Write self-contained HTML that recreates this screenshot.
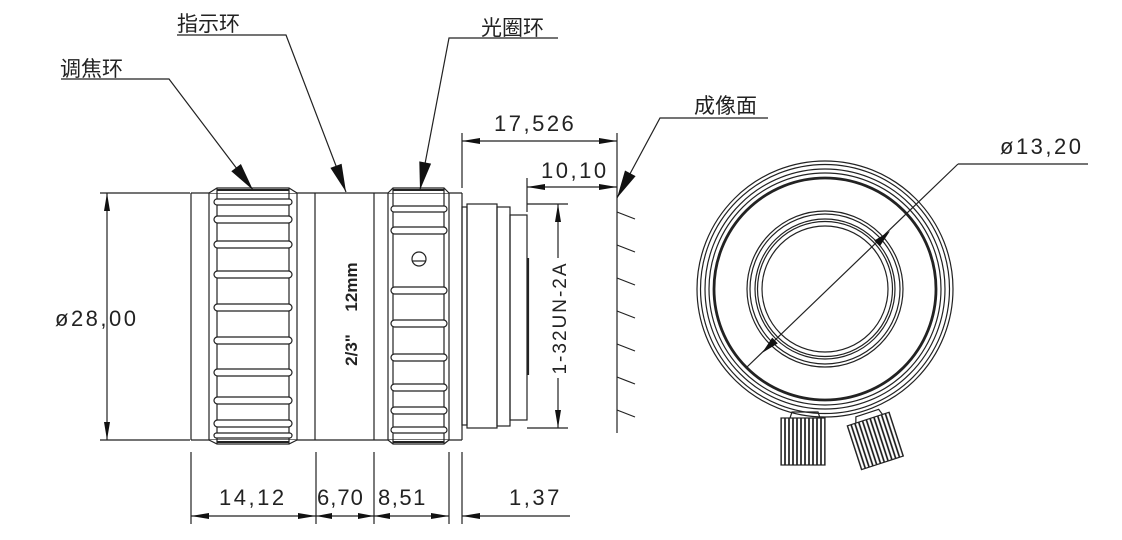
<!DOCTYPE html>
<html><head><meta charset="utf-8"><style>
html,body{margin:0;padding:0;background:#fff;}
svg{display:block;}
text{font-family:"Liberation Sans","Noto Sans CJK SC",sans-serif;fill:#222;}
.cn{font-family:"Liberation Sans","Noto Sans CJK SC",sans-serif;font-size:21px;}
.num{font-size:22px;letter-spacing:2.5px;font-weight:300;}
</style></head><body>
<svg width="1122" height="540" viewBox="0 0 1122 540" xmlns="http://www.w3.org/2000/svg">
<defs>
<pattern id="kn" width="4" height="10" patternUnits="userSpaceOnUse"><rect width="4" height="10" fill="#fff"/><line x1="1" y1="0" x2="1" y2="10" stroke="#111" stroke-width="1.6"/></pattern>
</defs>
<g stroke="#222" stroke-width="1.2" fill="none">
<line x1="191" y1="193" x2="462" y2="193"/>
<line x1="191" y1="440" x2="462" y2="440"/>
<line x1="191" y1="193" x2="191" y2="440"/>
<path d="M209 193 L217 188 L289 188 L297 193 M209 440 L217 444 L289 444 L297 440" fill="#fff"/>
<line x1="209" y1="193" x2="209" y2="440"/><line x1="297" y1="193" x2="297" y2="440"/>
<line x1="217" y1="188" x2="217" y2="444"/><line x1="289" y1="188" x2="289" y2="444"/>
<line x1="217" y1="190" x2="289" y2="190" stroke-width="2"/>
<line x1="217" y1="442" x2="289" y2="442" stroke-width="2"/>
<g fill="#fff">
<rect x="214" y="199" width="78" height="6" rx="3"/>
<rect x="214" y="216" width="78" height="7" rx="3.5"/>
<rect x="214" y="241" width="78" height="7" rx="3.5"/>
<rect x="214" y="271" width="78" height="7" rx="3.5"/>
<rect x="214" y="304" width="78" height="7" rx="3.5"/>
<rect x="214" y="337" width="78" height="7" rx="3.5"/>
<rect x="214" y="369" width="78" height="7" rx="3.5"/>
<rect x="214" y="397" width="78" height="7" rx="3.5"/>
<rect x="214" y="420" width="78" height="7" rx="3.5"/>
<rect x="214" y="433" width="78" height="5" rx="2.5"/>
</g>
<line x1="315" y1="193" x2="315" y2="440"/><line x1="374" y1="193" x2="374" y2="440"/>
<line x1="388" y1="193" x2="388" y2="440"/>
<path d="M388 193 L393 188 L444 188 L449 193 M388 440 L393 444 L444 444 L449 440" fill="#fff"/>
<line x1="393" y1="188" x2="393" y2="444"/><line x1="444" y1="188" x2="444" y2="444"/>
<line x1="393" y1="190" x2="444" y2="190" stroke-width="2"/>
<line x1="393" y1="442" x2="444" y2="442" stroke-width="2"/>
<line x1="449" y1="193" x2="449" y2="440"/>
<g fill="#fff">
<rect x="391" y="206" width="56" height="6" rx="3"/>
<rect x="391" y="227" width="56" height="7" rx="3.5"/>
<rect x="391" y="287" width="56" height="7" rx="3.5"/>
<rect x="391" y="320" width="56" height="7" rx="3.5"/>
<rect x="391" y="354" width="56" height="7" rx="3.5"/>
<rect x="391" y="384" width="56" height="7" rx="3.5"/>
<rect x="391" y="407" width="56" height="7" rx="3.5"/>
<rect x="391" y="427" width="56" height="6" rx="3"/>
</g>
<circle cx="419" cy="259" r="7"/><line x1="412" y1="261" x2="426" y2="261"/>
<line x1="462" y1="193" x2="462" y2="440"/>
<rect x="462" y="207" width="5" height="218"/>
<rect x="467" y="204" width="30" height="224"/>
<rect x="497" y="207" width="13" height="219"/>
<rect x="510" y="215" width="17" height="205"/>
<line x1="528" y1="258" x2="528" y2="375" stroke-width="2.2"/>
<line x1="527" y1="204" x2="568" y2="204"/><line x1="527" y1="428" x2="568" y2="428"/>
<line x1="558" y1="204" x2="558" y2="258"/><line x1="558" y1="378" x2="558" y2="428"/>
<line x1="617" y1="198" x2="617" y2="433"/>
<line x1="617" y1="212" x2="635" y2="219"/><line x1="617" y1="245" x2="635" y2="252"/>
<line x1="617" y1="278" x2="635" y2="285"/><line x1="617" y1="311" x2="635" y2="318"/>
<line x1="617" y1="344" x2="635" y2="351"/><line x1="617" y1="377" x2="635" y2="384"/>
<line x1="617" y1="410" x2="635" y2="417"/>
<line x1="462" y1="133" x2="462" y2="188"/><line x1="617" y1="133" x2="617" y2="198"/>
<line x1="462" y1="141" x2="617" y2="141"/>
<line x1="527" y1="178" x2="527" y2="212"/>
<line x1="527" y1="187" x2="617" y2="187"/>
<polyline points="61,79 169,79 253,190"/>
<polyline points="177,35 286,35 346,192"/>
<polyline points="558,38 449,38 420,190"/>
<polyline points="768,118 660,118 617,198"/>
<line x1="100" y1="193" x2="190" y2="193"/><line x1="100" y1="440" x2="190" y2="440"/>
<line x1="107" y1="193" x2="107" y2="440"/>
<line x1="191" y1="452" x2="191" y2="524"/><line x1="316" y1="452" x2="316" y2="524"/>
<line x1="374" y1="452" x2="374" y2="524"/><line x1="449" y1="452" x2="449" y2="524"/>
<line x1="462" y1="452" x2="462" y2="524"/>
<line x1="191" y1="516" x2="449" y2="516"/><line x1="462" y1="516" x2="570" y2="516"/>
<circle cx="825" cy="289" r="128"/>
<circle cx="825" cy="289" r="124.5"/>
<circle cx="825" cy="289" r="120"/>
<circle cx="825" cy="289" r="116"/>
<circle cx="825" cy="289" r="111" stroke-width="2.8"/>
<circle cx="825" cy="289" r="78"/>
<circle cx="825" cy="289" r="75"/>
<circle cx="825" cy="289" r="70"/>
<circle cx="825" cy="289" r="67.5"/>
<circle cx="825" cy="289" r="63"/>
<line x1="958" y1="164" x2="1088" y2="164"/>
<line x1="958" y1="164" x2="747" y2="367"/>
<path d="M790 418 L792 412 L818 412 L820 418" />
<rect x="781" y="418" width="44" height="47" fill="url(#kn)"/>
<g transform="rotate(-18 875 440)"><path d="M862 418 L864 412 L888 412 L890 418"/><rect x="853" y="418" width="44" height="46" fill="url(#kn)"/></g>
</g>
<g fill="#111">
<polygon points="253,190 231.3,171.2 240.9,164"/>
<polygon points="346,192 330.4,167.9 341.6,163.7"/>
<polygon points="420,190 419.3,161.4 431.1,163.6"/>
<polygon points="617,198 625,170.5 635.6,176.1"/>
<polygon points="462,141 480,138 480,144"/><polygon points="617,141 599,138 599,144"/>
<polygon points="527,187 545,184 545,190"/><polygon points="617,187 599,184 599,190"/>
<polygon points="558,204 555,222 561,222"/><polygon points="558,428 555,410 561,410"/>
<polygon points="107,193 104,211 110,211"/><polygon points="107,440 104,422 110,422"/>
<polygon points="191,516 209,513 209,519"/><polygon points="316,516 298,513 298,519"/>
<polygon points="316,516 332,513 332,519"/><polygon points="374,516 358,513 358,519"/>
<polygon points="374,516 390,513 390,519"/><polygon points="449,516 431,513 431,519"/>
<polygon points="462,516 480,513 480,519"/>
<polygon points="890,231 879.8,246.4 874.2,240.6"/>
<polygon points="762,353 777.8,343.4 772.2,337.6"/>
</g>
<text class="cn" x="60" y="76">调焦环</text>
<text class="cn" x="177" y="31">指示环</text>
<text class="cn" x="481" y="35">光圈环</text>
<text class="cn" x="694" y="113">成像面</text>
<text class="num" x="494" y="131">17,526</text>
<text class="num" x="541" y="178">10,10</text>
<text class="num" x="55" y="326">ø28,00</text>
<text class="num" x="1000" y="154">ø13,20</text>
<text class="num" x="219" y="505">14,12</text>
<text class="num" x="317" y="505" style="letter-spacing:1px">6,70</text>
<text class="num" x="378" y="505" style="letter-spacing:1.5px">8,51</text>
<text class="num" x="509" y="505">1,37</text>
<text class="num" transform="translate(566 318) rotate(-90)" text-anchor="middle" style="font-size:19px;letter-spacing:2px">1-32UN-2A</text>
<text transform="translate(357 287) rotate(-90)" text-anchor="middle" style="font-size:17px;font-weight:bold">12mm</text>
<text transform="translate(357 350) rotate(-90)" text-anchor="middle" style="font-size:17px;font-weight:bold">2/3"</text>
</svg>
</body></html>
